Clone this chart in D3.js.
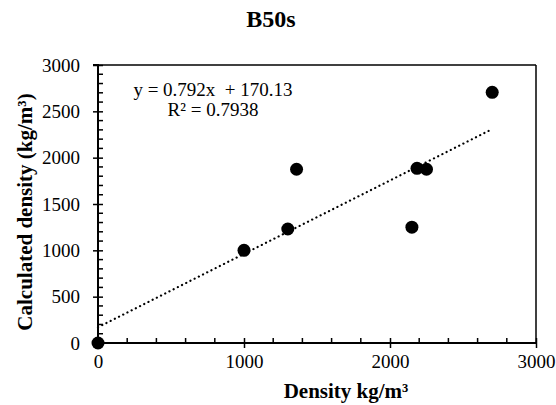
<!DOCTYPE html>
<html><head><meta charset="utf-8">
<script src="https://cdn.jsdelivr.net/npm/d3@7"></script>
<style>body{margin:0;background:#fff}svg{display:block}</style>
</head><body>
<svg id="c" width="556" height="405"></svg>
<script>
const title = "B50s";
const xLabel = "Density kg/m³";
const yLabel = "Calculated density (kg/m³)";
const density = [0, 1000, 1300, 1360, 2150, 2185, 2250, 2700];
const calculated = [0, 1000, 1230, 1875, 1250, 1885, 1875, 2705];
const xTicks = [0, 1000, 2000, 3000];
const yTicks = [0, 500, 1000, 1500, 2000, 2500, 3000];
const trendSlope = 0.792, trendIntercept = 170.13;
const eqLines = ["y = 0.792x  + 170.13", "R² = 0.7938"];

const svg = d3.select("#c");
const font = "'Liberation Serif','Times New Roman',serif";
const x = d3.scaleLinear().domain([0, 3000]).range([98, 536]);
const y = d3.scaleLinear().domain([0, 3000]).range([343, 65]);

// box top/right
svg.append("line").attr("x1", x(0)).attr("x2", x(3000)).attr("y1", y(3000)).attr("y2", y(3000)).attr("stroke", "#000").attr("stroke-width", 1.5);
svg.append("line").attr("x1", x(3000)).attr("x2", x(3000)).attr("y1", y(3000)).attr("y2", y(0)).attr("stroke", "#000").attr("stroke-width", 1.5);

// minor ticks
const xMinor = d3.range(200, 3000, 200).filter(v => v % 1000 !== 0);
svg.selectAll(".xm").data(xMinor).join("line")
  .attr("x1", d => x(d)).attr("x2", d => x(d)).attr("y1", y(0)).attr("y2", y(0) - 5)
  .attr("stroke", "#000").attr("stroke-width", 1.5);
const yMinor = d3.range(100, 3000, 100).filter(v => v % 500 !== 0);
svg.selectAll(".ym").data(yMinor).join("line")
  .attr("x1", x(0)).attr("x2", x(0) + 5).attr("y1", d => y(d)).attr("y2", d => y(d))
  .attr("stroke", "#000").attr("stroke-width", 1.5);

// axes
const xa = svg.append("g").attr("transform", `translate(0,${y(0)})`)
  .call(d3.axisBottom(x).tickValues(xTicks).tickSize(5).tickFormat(d3.format("d")));
xa.selectAll(".tick line").attr("y1", -5).attr("y2", 5).attr("stroke-width", 1.5);
xa.select(".domain").attr("stroke-width", 2).attr("d", `M${x(0)},0H${x(3000)}`);
xa.selectAll("text").attr("font-family", font).attr("font-size", 19).attr("y", 12).attr("dy", "0.71em").attr("fill", "#000");

const ya = svg.append("g").attr("transform", `translate(${x(0)},0)`)
  .call(d3.axisLeft(y).tickValues(yTicks).tickSize(5).tickFormat(d3.format("d")));
ya.selectAll(".tick line").attr("x1", 5).attr("x2", -5).attr("stroke-width", 1.5);
ya.select(".domain").attr("stroke-width", 2).attr("d", `M0,${y(0)}V${y(3000)}H-5`);
ya.selectAll("text").attr("font-family", font).attr("font-size", 19).attr("x", -18).attr("dy", "0.33em").attr("fill", "#000");

// trendline
const xMax = d3.max(density);
svg.append("line")
  .attr("x1", x(0)).attr("y1", y(trendIntercept))
  .attr("x2", x(xMax)).attr("y2", y(trendSlope * xMax + trendIntercept))
  .attr("stroke", "#000").attr("stroke-width", 2.2).attr("stroke-linecap", "round")
  .attr("stroke-dasharray", "0.1 4.6");

// points
svg.selectAll(".pt").data(density.map((d, i) => [d, calculated[i]])).join("circle")
  .attr("cx", d => x(d[0])).attr("cy", d => y(d[1])).attr("r", 6.5).attr("fill", "#000");

// equation
svg.append("text").attr("x", 213).attr("y", 96).attr("text-anchor", "middle").style("white-space", "pre")
  .attr("font-family", font).attr("font-size", 19).text(eqLines[0]);
svg.append("text").attr("x", 213).attr("y", 116).attr("text-anchor", "middle")
  .attr("font-family", font).attr("font-size", 19).text(eqLines[1]);

// title and labels
svg.append("text").attr("x", 271).attr("y", 27).attr("text-anchor", "middle")
  .attr("font-family", font).attr("font-size", 24).attr("font-weight", "bold").text(title);
svg.append("text").attr("x", 346).attr("y", 398).attr("text-anchor", "middle")
  .attr("font-family", font).attr("font-size", 21).attr("font-weight", "bold").text(xLabel);
svg.append("text").attr("transform", "translate(32,212) rotate(-90)").attr("text-anchor", "middle")
  .attr("font-family", font).attr("font-size", 21).attr("font-weight", "bold").text(yLabel);
</script>
</body></html>
